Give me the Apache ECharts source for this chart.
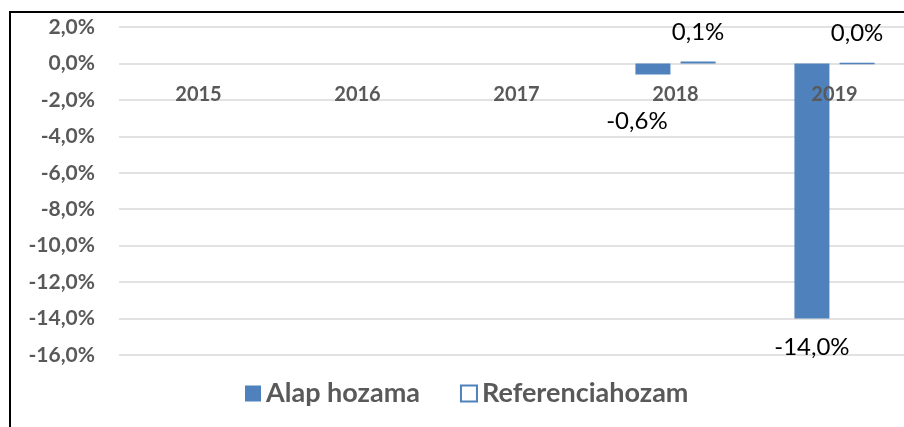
<!DOCTYPE html>
<html>
<head>
<meta charset="utf-8">
<script src="https://cdn.jsdelivr.net/npm/echarts@6/dist/echarts.min.js"></script>
<style>
  html, body { margin: 0; padding: 0; background: #fff; }
  #chart { width: 904px; height: 427px; }
</style>
</head>
<body>
<div id="chart"></div>
<script>
var years = ['2015', '2016', '2017', '2018', '2019'];
var alapHozama = [null, null, null, -0.6, -14.0];
var referenciahozam = [null, null, null, 0.1, 0.0];
var yTicks = [2, 0, -2, -4, -6, -8, -10, -12, -14, -16];

var blue = '#4F81BD';
var gray = '#595959';
var font = 'Lato';

function pct (v) {
  return v.toFixed(1).replace('.', ',') + '%'
}

// label nudges, roughly where they sit in the original
var alapOffsets = [null, null, null, [-16, 30], [0, 12]];
var refOffsets = [null, null, null, [0, -12], [0, -12]];

function buildData (values, offsets) {
  return values.map(function (v, i) {
    if (v == null) return null;
    return {
      value: v,
      label: {
        position: v < 0 ? 'bottom' : 'top',
        offset: offsets[i] || [0, 0]
      }
    }
  })
}

var chart = echarts.init(document.getElementById('chart'));
var option = {
  animation: false,
  textStyle: { fontFamily: font },
  graphic: [{
    type: 'rect',
    shape: { x: 10, y: 12, width: 1000, height: 1000 },
    style: { fill: 'none', stroke: '#000', lineWidth: 2 },
    z: 100
  }],
  grid: { left: 119, top: 27, width: 795, height: 328, outerBoundsMode: 'none' },
  legend: {
    left: 240,
    top: 375,
    itemWidth: 16,
    itemHeight: 16,
    itemGap: 40,
    icon: 'rect',
    textStyle: { color: gray, fontSize: 27, fontWeight: 'bold', fontFamily: font },
    data: ['Alap hozama', 'Referenciahozam']
  },
  xAxis: {
    type: 'category',
    data: years,
    z: 5,
    axisTick: { show: false },
    axisLine: { onZero: false, show: false },
    // labels sit just under the zero line, like the original
    axisLabel: { color: gray, fontSize: 20, fontWeight: 'bold', margin: -270 }
  },
  yAxis: {
    type: 'value',
    min: yTicks[yTicks.length - 1],
    max: yTicks[0],
    interval: 2,
    axisLine: { show: false },
    axisTick: { show: false },
    splitLine: { lineStyle: { color: '#d9d9d9', width: 1.5 } },
    axisLabel: {
      color: gray, fontSize: 21, fontWeight: 'bold', margin: 24,
      formatter: function (v) { return pct(v) }
    }
  },
  series: [
    {
      name: 'Alap hozama',
      type: 'bar',
      barWidth: 35,
      data: buildData(alapHozama, alapOffsets),
      itemStyle: { color: blue },
      label: {
        show: true, color: '#000', fontSize: 24, distance: 5,
        formatter: function (p) { return pct(p.value) }
      }
    },
    {
      name: 'Referenciahozam',
      type: 'bar',
      barWidth: 35,
      barGap: '29%',
      data: buildData(referenciahozam, refOffsets),
      itemStyle: { color: '#fff', borderColor: blue, borderWidth: 1.5 },
      label: {
        show: true, color: '#000', fontSize: 24, distance: 5,
        formatter: function (p) { return pct(p.value) }
      }
    }
  ]
};
option && chart.setOption(option);
</script>
</body>
</html>
